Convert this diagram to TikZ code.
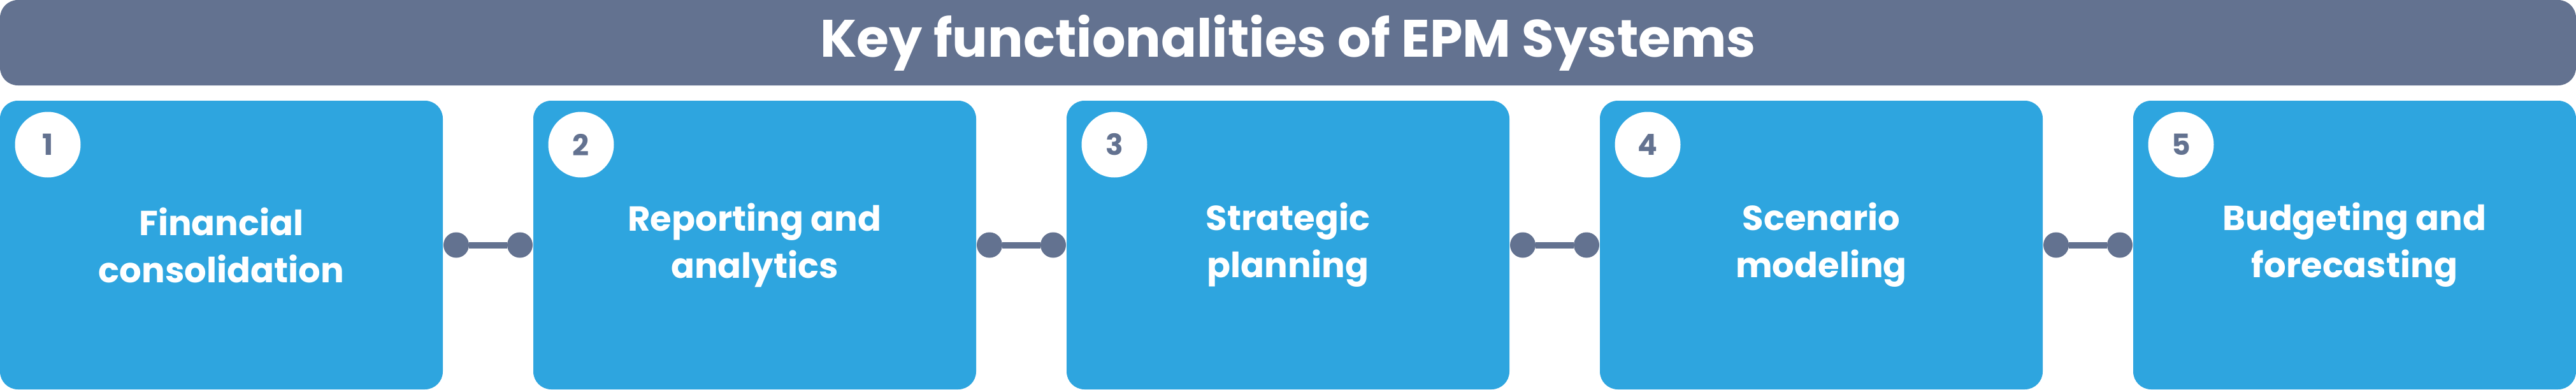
\documentclass[tikz,border=0pt]{standalone}
\usepackage{fontspec}
\setmainfont{Poppins}
\usepackage{xcolor}
\usetikzlibrary{positioning}

\definecolor{epmgray}{HTML}{637290}
\definecolor{epmblue}{HTML}{2EA5DF}

\begin{document}
\begin{tikzpicture}[node distance=1.42cm,
    card/.style={fill=epmblue,rounded corners=0.28cm,minimum width=6.95cm,
        minimum height=4.53cm,inner sep=0pt,outer sep=0pt,align=center,text=white,
        font=\fontsize{15.5}{21}\selectfont\bfseries},
    num/.style={circle,fill=white,minimum size=1.03cm,inner sep=0pt,
        text=epmgray,font=\fontsize{13}{13}\selectfont\bfseries},
    dot/.style={circle,fill=epmgray,minimum size=0.4cm,inner sep=0pt,outer sep=0pt},
    link/.style={epmgray,line width=0.1cm}]

\useasboundingbox (0,0) rectangle (40.43,6.11);

\node[fill=epmgray,rounded corners=0.28cm,minimum width=40.43cm,minimum height=1.34cm,
    inner sep=0pt,outer sep=0pt,text=white,font=\fontsize{23.5}{23.5}\selectfont\bfseries,
    anchor=north west] (title) at (0,6.11) {Key functionalities of EPM Systems};

\node[card,anchor=south west] (b1) at (0,0) {Financial\\consolidation};
\node[card] (b2) [right=of b1] {Reporting and\\analytics};
\node[card] (b3) [right=of b2] {Strategic\\planning};
\node[card] (b4) [right=of b3] {Scenario\\modeling};
\node[card] (b5) [right=of b4] {Budgeting and\\forecasting};

\node[num] (n1) at ([shift={(0.75,-0.69)}]b1.north west) {1};
\node[num] (n2) at ([shift={(0.75,-0.69)}]b2.north west) {2};
\node[num] (n3) at ([shift={(0.75,-0.69)}]b3.north west) {3};
\node[num] (n4) at ([shift={(0.75,-0.69)}]b4.north west) {4};
\node[num] (n5) at ([shift={(0.75,-0.69)}]b5.north west) {5};

\node[dot] (d1) [right=0.01cm of b1] {};
\node[dot] (e1) [left=0.01cm of b2] {};
\node[dot] (d2) [right=0.01cm of b2] {};
\node[dot] (e2) [left=0.01cm of b3] {};
\node[dot] (d3) [right=0.01cm of b3] {};
\node[dot] (e3) [left=0.01cm of b4] {};
\node[dot] (d4) [right=0.01cm of b4] {};
\node[dot] (e4) [left=0.01cm of b5] {};

\path[link]
    (d1) edge (e1)
    (d2) edge (e2)
    (d3) edge (e3)
    (d4) edge (e4);

\end{tikzpicture}
\end{document}
